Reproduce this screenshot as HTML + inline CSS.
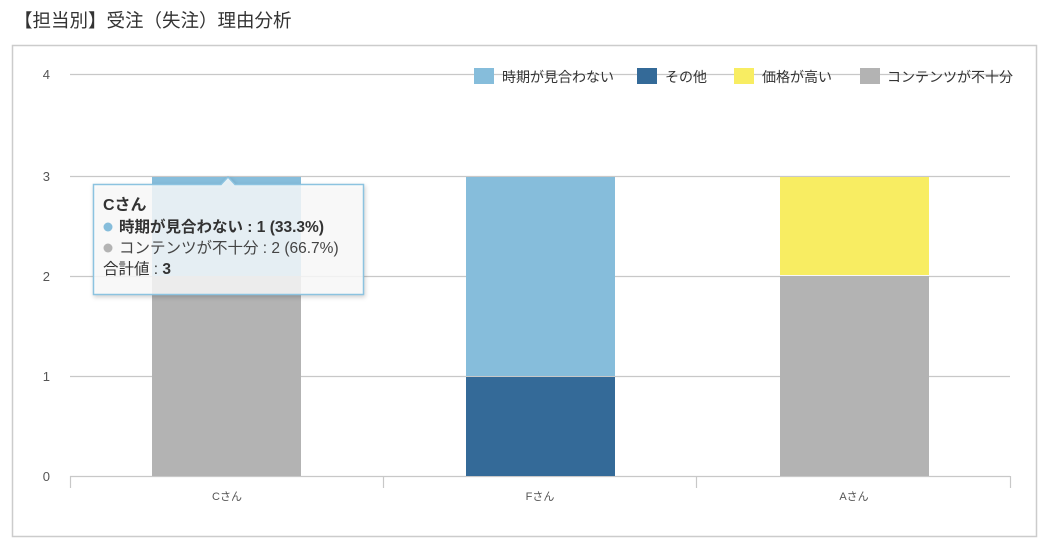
<!DOCTYPE html>
<html><head><meta charset="utf-8"><style>
body{margin:0;background:#fff;width:1053px;height:546px;overflow:hidden;font-family:"Liberation Sans","Noto Sans CJK JP",sans-serif;}
</style></head><body>
<svg width="1053" height="546" xmlns="http://www.w3.org/2000/svg" font-family="Liberation Sans, Noto Sans CJK JP, sans-serif">
<text x="14" y="27" font-size="18.5" fill="#333">【担当別】受注（失注）理由分析</text>
<rect x="12.5" y="45.5" width="1024" height="491" fill="#fff" stroke="#ccc" stroke-width="1.5"/>
<g stroke="#c8c8c8" stroke-width="1.2">
<line x1="70" y1="74.5" x2="1010" y2="74.5"/>
<line x1="70" y1="176.5" x2="1010" y2="176.5"/>
<line x1="70" y1="276.5" x2="1010" y2="276.5"/>
<line x1="70" y1="376.5" x2="1010" y2="376.5"/>
<line x1="70" y1="476.5" x2="1010" y2="476.5"/>
<line x1="70.5" y1="476" x2="70.5" y2="488"/>
<line x1="383.5" y1="476" x2="383.5" y2="488"/>
<line x1="696.5" y1="476" x2="696.5" y2="488"/>
<line x1="1010.5" y1="476" x2="1010.5" y2="488"/>
</g>
<g font-size="13" fill="#555" text-anchor="end">
<text x="50" y="79">4</text><text x="50" y="181">3</text><text x="50" y="281">2</text><text x="50" y="381">1</text><text x="50" y="481">0</text>
</g>
<g font-size="11" fill="#555" text-anchor="middle">
<text x="227" y="500">Cさん</text><text x="540" y="500">Fさん</text><text x="854" y="500">Aさん</text>
</g>
<rect x="152" y="276" width="149" height="200" fill="#b3b3b3"/>
<rect x="152" y="177" width="149" height="99" fill="#86bddb"/>
<rect x="466" y="377" width="149" height="99" fill="#346a98"/>
<rect x="466" y="177" width="149" height="199" fill="#86bddb"/>
<rect x="780" y="276" width="149" height="200" fill="#b3b3b3"/>
<rect x="780" y="177" width="149" height="98" fill="#f8ed62"/>
<g font-size="14" fill="#333">
<rect x="474" y="68" width="20" height="16" fill="#86bddb"/><text x="502" y="82">時期が見合わない</text>
<rect x="637" y="68" width="20" height="16" fill="#346a98"/><text x="665" y="82">その他</text>
<rect x="734" y="68" width="20" height="16" fill="#f8ed62"/><text x="762" y="82">価格が高い</text>
<rect x="860" y="68" width="20" height="16" fill="#b3b3b3"/><text x="887" y="82">コンテンツが不十分</text>
</g>
<path d="M93.5 184.5 H221 L228 177 L235 184.5 H363.5 V294.5 H93.5 Z" fill="#fff" fill-opacity="0.82" stroke="#8cc3e0" stroke-width="1.5" style="filter:drop-shadow(1px 2px 2px rgba(0,0,0,.2))"/>
<text x="103" y="210" font-size="16" fill="#333" font-weight="bold">Cさん</text>
<circle cx="108" cy="227" r="4.5" fill="#86bddb"/>
<text x="119" y="232" font-size="15.5" fill="#333" font-weight="bold">時期が見合わない : 1 (33.3%)</text>
<circle cx="108" cy="248" r="4.5" fill="#b3b3b3"/>
<text x="119" y="253" font-size="15.5" fill="#444">コンテンツが不十分 : 2 (66.7%)</text>
<text x="103" y="274" font-size="15.5" fill="#333">合計値 :  <tspan font-weight="bold">3</tspan></text>
</svg>
</body></html>
